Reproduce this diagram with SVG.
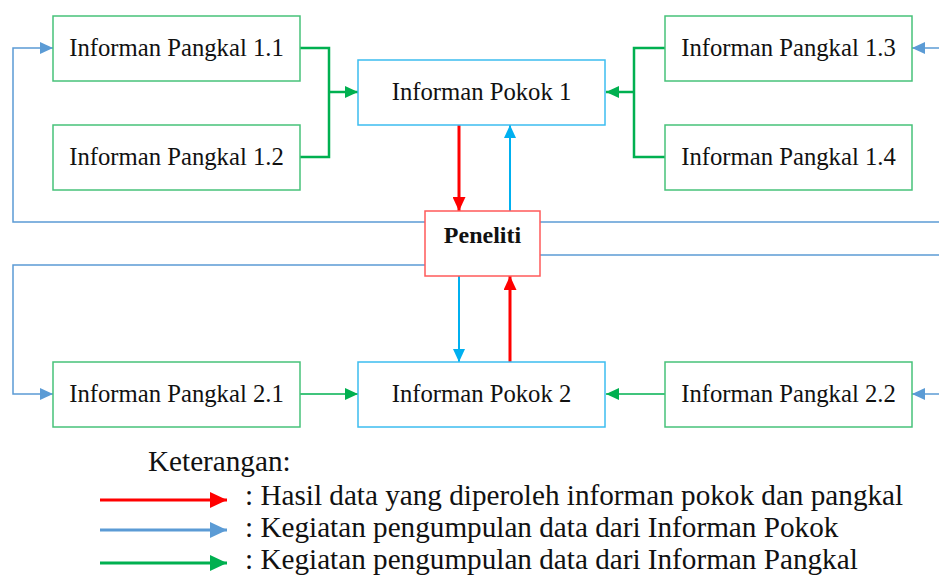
<svg xmlns="http://www.w3.org/2000/svg" width="939" height="576" viewBox="0 0 939 576">
  <style>
    .box { fill: #ffffff; stroke-width: 1.5; }
    .pk { stroke: #47c27a; }
    .pp { stroke: #3cbdf0; }
    .pn { stroke: #ff5a5a; }
    .lbl { font-family: "Liberation Serif", "Times New Roman", serif; font-size: 24.7px; fill: #111; text-anchor: middle; }
    .bold { font-weight: bold; font-size: 24px; }
    .leg { font-family: "Liberation Serif", "Times New Roman", serif; font-size: 29.2px; fill: #111; }
    .g { stroke: #00b050; fill: none; }
    .b { stroke: #5b9bd5; fill: none; stroke-width: 1.5; }
    .c { stroke: #00b0f0; fill: none; stroke-width: 2; }
    .r { stroke: #ff0000; fill: none; stroke-width: 3; }
  </style>
  <defs>
    <marker id="aG" markerUnits="userSpaceOnUse" markerWidth="13" markerHeight="12" refX="13" refY="6" orient="auto">
      <path d="M0,0 L13,6 L0,12 z" fill="#00b050"/>
    </marker>
    <marker id="aB" markerUnits="userSpaceOnUse" markerWidth="13" markerHeight="12" refX="13" refY="6" orient="auto">
      <path d="M0,0 L13,6 L0,12 z" fill="#5b9bd5"/>
    </marker>
    <marker id="aC" markerUnits="userSpaceOnUse" markerWidth="13" markerHeight="12" refX="13" refY="6" orient="auto">
      <path d="M0,0 L13,6 L0,12 z" fill="#00b0f0"/>
    </marker>
    <marker id="aR" markerUnits="userSpaceOnUse" markerWidth="14" markerHeight="13" refX="14" refY="6.5" orient="auto">
      <path d="M0,0 L14,6.5 L0,13 z" fill="#ff0000"/>
    </marker>
    <marker id="lR" markerUnits="userSpaceOnUse" markerWidth="17" markerHeight="16" refX="17" refY="8" orient="auto">
      <path d="M0,0 L17,8 L0,16 z" fill="#ff0000"/>
    </marker>
    <marker id="lB" markerUnits="userSpaceOnUse" markerWidth="17" markerHeight="16" refX="17" refY="8" orient="auto">
      <path d="M0,0 L17,8 L0,16 z" fill="#5b9bd5"/>
    </marker>
    <marker id="lG" markerUnits="userSpaceOnUse" markerWidth="17" markerHeight="16" refX="17" refY="8" orient="auto">
      <path d="M0,0 L17,8 L0,16 z" fill="#00b050"/>
    </marker>
  </defs>

  <!-- connectors -->
  <g id="connectors">
    <!-- pangkal 1.1 / 1.2 into pokok 1 -->
    <path class="g" stroke-width="2.5" d="M300,48 H329 V157 H300"/>
    <path class="g" stroke-width="2.5" d="M329,92 H358" marker-end="url(#aG)"/>
    <!-- pangkal 1.3 / 1.4 into pokok 1 -->
    <path class="g" stroke-width="2.5" d="M665,48 H634 V157 H665"/>
    <path class="g" stroke-width="2.5" d="M634,92 H606" marker-end="url(#aG)"/>
    <!-- pokok 1 <-> peneliti -->
    <path class="r" d="M459,125 V211" marker-end="url(#aR)"/>
    <path class="c" d="M510,211 V125" marker-end="url(#aC)"/>
    <!-- peneliti <-> pokok 2 -->
    <path class="c" d="M459,276 V362" marker-end="url(#aC)"/>
    <path class="r" d="M510,362 V276" marker-end="url(#aR)"/>
    <!-- pangkal 2.x into pokok 2 -->
    <path class="g" stroke-width="1.5" d="M300,394 H358" marker-end="url(#aG)"/>
    <path class="g" stroke-width="1.5" d="M665,394 H606" marker-end="url(#aG)"/>
    <!-- peneliti out to pangkal informants -->
    <path class="b" d="M425,222 H13 V48 H53" marker-end="url(#aB)"/>
    <path class="b" d="M425,265 H13 V394 H53" marker-end="url(#aB)"/>
    <path class="b" d="M540,222 H939"/>
    <path class="b" d="M540,255 H939"/>
    <path class="b" d="M939,48 H912" marker-end="url(#aB)"/>
    <path class="b" d="M939,394 H912" marker-end="url(#aB)"/>
  </g>

  <!-- nodes -->
  <g id="pangkal-1-1">
    <rect class="box pk" x="53" y="16" width="247" height="65"/>
    <text class="lbl" x="176.5" y="56">Informan Pangkal 1.1</text>
  </g>
  <g id="pangkal-1-2">
    <rect class="box pk" x="53" y="125" width="247" height="65"/>
    <text class="lbl" x="176.5" y="165">Informan Pangkal 1.2</text>
  </g>
  <g id="pangkal-1-3">
    <rect class="box pk" x="665" y="16" width="247" height="65"/>
    <text class="lbl" x="788.5" y="56">Informan Pangkal 1.3</text>
  </g>
  <g id="pangkal-1-4">
    <rect class="box pk" x="665" y="125" width="247" height="65"/>
    <text class="lbl" x="788.5" y="165">Informan Pangkal 1.4</text>
  </g>
  <g id="pokok-1">
    <rect class="box pp" x="358" y="60" width="247" height="65"/>
    <text class="lbl" x="481.5" y="100">Informan Pokok 1</text>
  </g>
  <g id="peneliti">
    <rect class="box pn" x="425" y="211" width="115" height="65"/>
    <text class="lbl bold" x="482.5" y="243">Peneliti</text>
  </g>
  <g id="pangkal-2-1">
    <rect class="box pk" x="53" y="362" width="247" height="65"/>
    <text class="lbl" x="176.5" y="402">Informan Pangkal 2.1</text>
  </g>
  <g id="pokok-2">
    <rect class="box pp" x="358" y="362" width="247" height="65"/>
    <text class="lbl" x="481.5" y="402">Informan Pokok 2</text>
  </g>
  <g id="pangkal-2-2">
    <rect class="box pk" x="665" y="362" width="247" height="65"/>
    <text class="lbl" x="788.5" y="402">Informan Pangkal 2.2</text>
  </g>

  <!-- legend -->
  <g id="legend">
    <text class="leg" x="148" y="471">Keterangan:</text>
    <path d="M100,500 H227" stroke="#ff0000" stroke-width="3" marker-end="url(#lR)"/>
    <text class="leg" x="245" y="505">: Hasil data yang diperoleh informan pokok dan pangkal</text>
    <path d="M100,530 H227" stroke="#5b9bd5" stroke-width="3" marker-end="url(#lB)"/>
    <text class="leg" x="245" y="537">: Kegiatan pengumpulan data dari Informan Pokok</text>
    <path d="M100,563 H227" stroke="#00b050" stroke-width="3" marker-end="url(#lG)"/>
    <text class="leg" x="245" y="569">: Kegiatan pengumpulan data dari Informan Pangkal</text>
  </g>
</svg>
